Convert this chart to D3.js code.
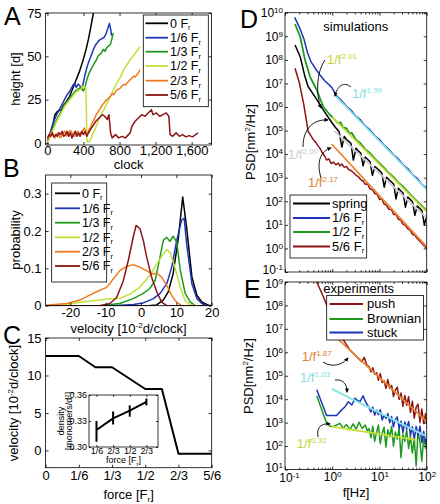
<!DOCTYPE html>
<html><head><meta charset="utf-8">
<script src="https://cdn.jsdelivr.net/npm/d3@7/dist/d3.min.js"></script>
<style>
html,body{margin:0;padding:0;background:#fff;}
svg{display:block;font-family:"Liberation Sans",Arial,Helvetica,sans-serif;}
</style></head>
<body><svg id="chart" width="440" height="504"></svg>
<script>
// ================= DATA =================
const forceLabels = ["0", "1/6", "1/3", "1/2", "2/3", "5/6"];
const forceColors = ["#000000", "#1f35b8", "#1f9a1f", "#c2e03a", "#ee7b22", "#8c1515"];

// Panel A: height [d] vs clock  ([clock, height])
const aRun0 = [[0,1],[11,1.9],[40,6.7],[65,11.5],[83,16.3],[113,18.3],[156,19.2],[174,21.2],[211,24],[247,26.9],[283,31.7],[319,36.5],[356,41.3],[392,47.1],[428,53.8],[454,59.6],[483,67.3],[512,75.5]];
const aRun1 = [[0,1.5],[25,5],[50,9],[75,13],[100,16],[130,19],[160,22],[190,25],[220,28],[250,30],[280,33],[300,34.5],[320,32],[340,34],[360,33],[380,31],[400,35],[420,40],[440,44],[460,47],[483,50],[510,54],[540,57],[570,59],[600,60],[630,61],[650,63],[670,66],[688,69],[700,66],[712,62]];
const aRun2 = [[0,1],[25,4],[50,7],[75,10],[100,13],[130,16],[160,19],[190,22],[220,24],[250,26],[280,28],[310,30],[340,31],[370,32],[400,30],[420,33],[440,37],[460,40],[480,42],[500,44],[520,46],[545,48],[560,50],[580,51],[600,52],[620,54],[640,53],[660,55],[680,56],[700,57],[715,60],[730,63.5]];
const aRun3 = [[0,0.5],[25,3],[50,6],[75,9],[100,12],[130,15],[160,18],[190,21],[220,23],[250,25],[280,27],[310,29],[340,30],[370,31],[392,32.7],[420,32],[428,31],[435,10],[440,0.5],[460,0.5],[480,2],[500,4.8],[530,8],[555,11.5],[590,16],[628,19.2],[660,23],[700,26.9],[735,31],[773,34.6],[810,38],[846,42.3],[880,45],[918,48],[955,50.5],[991,52.9],[1027,55.5]];
const aRun4 = [[0,1],[15,3],[29,4.8],[47,6.7],[65,4],[83,2.9],[100,5],[120,5.8],[138,3],[156,3.8],[175,6],[192,6.7],[210,4],[229,4.8],[247,7],[265,6.7],[283,4],[301,3.8],[320,6],[338,6.7],[356,5],[374,5.8],[392,7],[410,8.7],[428,6],[446,5.8],[465,8],[483,9.6],[500,12],[519,13.5],[537,16],[555,17.3],[574,19],[592,20.2],[610,22],[628,23],[646,24.5],[664,25],[682,26],[701,27],[719,28.5],[737,27.9],[755,29.5],[773,30.8],[791,31],[810,31.7],[828,33],[846,33.7],[864,33.5],[882,34.6],[900,35.5],[918,36.5],[937,37.5],[955,38.5],[973,38],[991,39.4],[1009,40.5],[1027,42.3]];
const aRun5 = [[0,2.9],[18,4.8],[36,3.8],[54,5.8],[73,3.5],[91,4.8],[109,3.8],[127,5.8],[145,4.8],[163,6.7],[182,3.8],[200,4.8],[218,6.7],[236,3.8],[254,5.8],[272,2.9],[290,4.8],[309,6.7],[327,3.8],[345,5.8],[363,3.8],[381,6.7],[399,4.8],[417,6.7],[436,3.8],[465,6.7],[501,9.6],[537,12.5],[574,14.4],[610,16.3],[635,15.4],[664,13.5],[682,16.3],[701,5.8],[719,2.9],[755,4.8],[791,2.9],[828,3.8],[864,2.9],[900,4.8],[918,5.8],[937,9.6],[973,12.5],[1009,14.4],[1045,16.3],[1082,15.4],[1118,17.3],[1154,19.2],[1172,16.3],[1209,17.3],[1245,15.4],[1281,16.3],[1318,17.3],[1347,15.4],[1361,4.8],[1390,3.8],[1427,5.8],[1463,3.8],[1499,4.8],[1536,3.5],[1572,4.2],[1608,3.5],[1644,4.8],[1670,5.8]];
const aTicksX = [0, 400, 800, 1200, 1600];
const aTicksY = [0, 25, 50, 75];

// Panel B: probability vs velocity ([velocity, probability])
const bDist0 = [[-27,0],[2,0],[4.4,0.002],[6.3,0.015],[7.7,0.037],[9.1,0.086],[10.6,0.184],[11.8,0.291],[12.9,0.21],[14.4,0.077],[15.8,0.028],[17.2,0.01],[19.1,0.001],[20,0]];
const bDist1 = [[-27,0],[-8,0],[-2.2,0.003],[0.65,0.0075],[3.5,0.019],[5.4,0.033],[7.3,0.059],[8.7,0.104],[10.1,0.175],[11.5,0.229],[12.2,0.235],[12.9,0.166],[14.4,0.059],[15.8,0.019],[17.2,0.006],[18.6,0],[20,0]];
const bDist2 = [[-27,0],[-12,0],[-9.7,0.002],[-6,0.006],[-2.2,0.019],[0.65,0.033],[2.5,0.046],[4,0.068],[5.2,0.122],[6.3,0.175],[7.3,0.183],[8.2,0.172],[9.1,0.186],[10.1,0.17],[11.1,0.095],[12.5,0.033],[13.9,0.01],[15.3,0],[20,0]];
const bDist3 = [[-27,0],[-21,0.003],[-17.3,0.009],[-13.5,0.013],[-9.7,0.018],[-6,0.02],[-3.1,0.031],[-0.3,0.05],[2.1,0.076],[4.5,0.112],[6.3,0.139],[7.3,0.15],[8.2,0.143],[9.6,0.103],[11.1,0.049],[12.5,0.013],[13.9,0.003],[15.3,0],[20,0]];
const bDist4 = [[-27,0.001],[-21,0.006],[-17.3,0.015],[-14.8,0.027],[-12,0.04],[-9.7,0.049],[-7.8,0.072],[-6,0.094],[-4.1,0.105],[-2.2,0.11],[-0.3,0.103],[1.6,0.094],[3,0.085],[4.5,0.087],[5.9,0.076],[7.3,0.054],[8.7,0.027],[10.1,0.009],[11.5,0],[20,0]];
const bDist5 = [[-27,0],[-11.6,0],[-8.8,0.006],[-6.9,0.022],[-5,0.067],[-3.6,0.121],[-2.2,0.184],[-1.4,0.215],[-0.3,0.206],[0.65,0.175],[1.6,0.13],[3,0.076],[4.5,0.036],[5.9,0.009],[7.3,0],[20,0]];
const bTicksX = [-20, -10, 0, 10, 20];
const bTicksY = [0, 0.1, 0.2, 0.3];

// Panel C: mean velocity vs force
const cForce = [0, 1/6, 1/4, 1/3, 1/2, 7/12, 2/3, 5/6];
const cVelocity = [12.6, 12.6, 11.1, 11.1, 8.2, 8.2, -0.45, -0.45];
const cTicksX = [0, 1/6, 2/6, 3/6, 4/6, 5/6];
const cTicksY = [0, 5, 10, 15];
// inset: density vs force
const insetCats = ["1/6", "2/3", "1/2", "2/3"];
const insetDensity = [0.3196, 0.333, 0.342, 0.352];
const insetLow = [0.306, 0.326, 0.335, 0.348];
const insetHigh = [0.330, 0.341, 0.348, 0.356];
const insetTicksY = [0.30, 0.33, 0.36];

// Panel D: simulations PSD (frequency [Hz], log10 PSD [nm^2/Hz])
const dSpringF = [0.163,0.21,0.265,0.31,0.43,0.65,0.9,1.15,1.4,1.6,1.8,2.0,2.2,2.5,2.8,3.2,3.5,4.0,4.5,5.0,5.6,6.3,7.1,8.0,8.9,10,11.2,12.6,14.1,15.8,17.8,20,22.4,25.1,28.2,31.6,35.5,39.8,44.7,50.1,56.2,63.1,70.8,79.4,89.1,100];
const dSpringLog = [8.63,8.13,7.28,6.86,6.44,5.87,5.45,5.15,4.95,4.3,4.75,4.62,4.55,4.45,3.75,4.25,4.15,4.05,3.5,3.88,3.78,3.68,3.1,3.47,3.4,3.3,3.2,2.6,3.02,2.92,2.83,2.72,2.1,2.55,2.45,2.35,1.75,2.18,2.08,1.98,1.4,1.8,1.7,1.6,1.0,1.4];
const dOneSixthF = [0.16,0.2,0.25,0.3,0.35,0.45,0.55,0.7,0.85,1.0,1.2,1.5,2,2.5,3.2,4,5,6.3,8,10,12.6,15.8,20,25,31.6,40,50,63,79,100];
const dOneSixthLog = [9.8,9.4,8.9,8.3,7.95,7.6,7.36,7.1,6.95,6.8,6.5,6.32,6.03,5.86,5.6,5.44,5.2,5.03,4.78,4.62,4.37,4.2,3.96,3.8,3.55,3.38,3.13,2.97,2.72,2.55];
const dOneHalfF = [0.163,0.21,0.265,0.34,0.47,0.65,0.9,1.15,1.3,1.5,1.7,2,2.3,2.6,3.2,4,5,6.3,8,10,12.6,15.8,20,25,31.6,40,50,63,79,100];
const dOneHalfLog = [9.52,8.98,8.0,7.28,6.72,6.0,5.66,5.45,5.32,5.35,5.12,5.1,4.88,4.9,4.6,4.45,4.2,4.05,3.8,3.62,3.42,3.2,3.02,2.8,2.62,2.4,2.2,2.0,1.8,1.6];
const dFiveSixthF = [0.163,0.2,0.25,0.31,0.35,0.4,0.45,0.5,0.55,0.62,0.7,0.76,0.85,0.95,1.05,1.2,1.35,1.46,1.6,1.8,2.0,2.2,2.5,2.8,3.2,3.5,4.0,4.5,5.0,5.6,6.3,7.1,8.0,8.9,10,11.2,12.6,14.1,15.8,17.8,20,22.4,25.1,28.2,31.6,35.5,39.8,44.7,50.1,56.2,63.1,70.8,79.4,89.1,100];
const dFiveSixthLog = [7.64,7.05,6.1,4.95,4.8,4.6,4.5,4.35,4.25,4.05,3.9,3.75,3.8,3.6,3.66,3.55,3.62,3.5,3.58,3.44,3.48,3.35,3.3,3.22,3.1,3.06,2.92,2.86,2.72,2.74,2.52,2.5,2.33,2.3,2.08,2.1,1.88,1.84,1.66,1.65,1.44,1.45,1.24,1.2,1.02,0.98,0.83,0.78,0.6,0.56,0.42,0.32,0.22,0.1,0.0];
// power-law fits in D (endpoints, log10 PSD)
const dFitCyanF = [1.2, 100],  dFitCyanLog = [6.45, 2.49];   // 1/f^1.99
const dFitYellowF = [1.0, 100], dFitYellowLog = [5.57, 1.55]; // 1/f^2.01
const dFitGreyF = [1.1, 100],  dFitGreyLog = [4.99, 1.29];   // 1/f^2.00
const dFitOrangeF = [0.97, 100], dFitOrangeLog = [4.43, 0.07]; // 1/f^2.17
const dLegend = ["spring", "1/6", "1/2", "5/6"];

// Panel E: experiments PSD
const eFreqHigh = [6.0,6.6,7.2,7.9,8.7,9.5,10.4,11.4,12.5,13.7,15.0,16.5,18.1,19.8,21.7,23.8,26.1,28.6,31.4,34.4,37.7,41.4,45.3,49.7,54.5,59.8,65.5,71.9,78.8,86.4,94.7,100];
const ePushF = [0.42,0.47,0.65,0.9,1.24,1.72,2.37,3.3,4.2,4.8,5.4];
const ePushLog = [9.3,9.0,8.37,7.66,7.0,6.53,6.1,5.81,5.6,5.78,5.45];
const ePushHighLog = [5.39,5.16,5.34,5.06,5.13,4.81,5.09,4.71,4.79,4.46,4.84,4.46,4.59,4.11,4.39,4.51,3.99,4.26,3.69,4.16,3.74,4.11,3.44,3.91,3.19,3.66,3.79,3.01,3.58,2.96,3.39,2.94];
const eBrownF = [0.47,0.6,0.76,0.9,1.05,1.24,1.46,1.7,2.0,2.37,2.78,3.2,3.7,4.3,5.0,5.5];
const eBrownLog = [4.15,3.55,2.97,2.85,2.83,2.9,2.97,2.76,2.92,2.7,2.95,2.72,3.02,2.75,2.9,2.65];
const eBrownHighLog = [2.75,2.35,2.85,2.2,2.6,2.9,2.1,2.55,2.8,1.95,2.7,2.4,2.85,2.0,2.6,2.3,2.75,1.5,2.5,2.2,2.7,1.9,2.45,1.7,2.3,1.15,2.6,2.2,1.35,2.4,1.9,2.25];
const eStuckF = [0.47,0.6,0.76,1.0,1.24,1.5,1.87,2.2,2.6,3.04,3.4,3.86,4.5,5.2];
const eStuckLog = [4.4,3.85,3.3,3.3,3.3,3.5,3.68,3.89,3.75,4.04,3.95,3.89,4.14,3.85];
const eStuckHighLog = [3.64,3.45,3.66,3.32,3.53,3.34,3.55,3.11,3.32,3.18,3.39,3.00,3.26,2.82,3.13,3.24,2.75,3.06,2.57,3.03,2.74,3.05,2.46,2.82,2.28,2.84,2.45,2.85,2.16,2.62,2.13,2.31];
const eFitOrangeF = [1.2, 100],  eFitOrangeLog = [6.65, 3.04];  // 1/f^1.87
const eFitCyanF = [0.975, 100],  eFitCyanLog = [4.44, 2.41];   // 1/f^1.03
const eFitYellowF = [0.975, 61], eFitYellowLog = [2.83, 2.26]; // 1/f^0.32
const eLegend = ["push", "Brownian", "stuck"];
const logTicksD = [1e-1,1e0,1e1,1e2,1e3,1e4,1e5,1e6,1e7,1e8,1e9,1e10];
const logTicksE = [1e1,1e2,1e3,1e4,1e5,1e6,1e7,1e8,1e9];
const logTicksF = [0.1, 1, 10, 100];

// ================= DRAWING =================
const FONT = '"Liberation Sans", Arial, Helvetica, sans-serif';
const svg = d3.select("#chart");
const defs = svg.append("defs");
defs.append("marker").attr("id","arrow").attr("viewBox","0 0 10 10")
  .attr("refX",8).attr("refY",5).attr("markerWidth",5).attr("markerHeight",5)
  .attr("orient","auto").append("path").attr("d","M0,0.5 L10,5 L0,9.5 z").attr("fill","#000");

const C = {black:"#000000", blue:"#1f35b8", green:"#1f9a1f", yel:"#c2e03a", orange:"#ee7b22", red:"#8c1515",
           cyanFit:"#86e6e6", cyanTxt:"#7fdede", yelFit:"#c9dc3a", yelTxt:"#c8d43a", greyFit:"#cfcfcf", greyTxt:"#cccccc", orFit:"#ea8530", orTxt:"#e4822e"};

let clipN = 0;
function clipGroup(x, y) {
  const id = "clp" + (clipN++);
  const [xa, xb] = x.range(), [yb, ya] = y.range();
  defs.append("clipPath").attr("id", id).append("rect")
    .attr("x", xa).attr("y", ya).attr("width", xb - xa).attr("height", yb - ya);
  return svg.append("g").attr("clip-path", `url(#${id})`);
}
function styleAxis(g, fs) {
  g.attr("font-family", FONT).attr("font-size", fs);
  g.select(".domain").remove();
  g.selectAll(".tick line").attr("stroke", "#000").attr("stroke-width", 0.8);
  g.selectAll("text").attr("fill", "#000");
}
function axes(x, y, o) {
  const [xa, xb] = x.range(), [yb, ya] = y.range();
  const t = o.tick ?? 3, fs = o.fs ?? 13;
  const mk = (axis, tx, ty, vals, fmt, pad, size) => {
    axis.tickSizeInner(-size).tickSizeOuter(0).tickPadding(pad);
    if (vals) axis.tickValues(vals);
    axis.tickFormat(fmt);
    const g = svg.append("g").attr("transform", `translate(${tx},${ty})`).call(axis);
    styleAxis(g, fs);
    return g;
  };
  const gl = mk(d3.axisLeft(y), xa, 0, o.yticks, o.yfmt, o.ypad ?? 4, t);
  mk(d3.axisRight(y), xb, 0, o.yticks, () => "", 0, t);
  const gb = mk(d3.axisBottom(x), 0, yb, o.xticks, o.xfmt, o.xpad ?? 3, t);
  mk(d3.axisTop(x), 0, ya, o.xticks, () => "", 0, t);
  if (o.xminor) {
    mk(d3.axisBottom(x), 0, yb, o.xminor, () => "", 0, t * 0.6);
    mk(d3.axisTop(x), 0, ya, o.xminor, () => "", 0, t * 0.6);
  }
  svg.append("rect").attr("x", xa).attr("y", ya).attr("width", xb - xa).attr("height", yb - ya)
    .attr("fill", "none").attr("stroke", "#000").attr("stroke-width", 0.8);
  return { gl, gb };
}
function supTicks(g) {
  g.selectAll(".tick text").each(function (d) {
    const e = Math.round(Math.log10(d));
    const s = d3.select(this);
    s.text("10");
    s.append("tspan").attr("dy", "-0.5em").attr("font-size", 8).text(e < 0 ? "-" + (-e) : String(e));
  });
}
// nudge a single tick label of an axis group (value v) by dx, dy pixels
function nudgeTick(g, v, dx, dy) {
  g.selectAll(".tick").filter(d => Math.abs(d - v) < 1e-9 * Math.max(1, v)).select("text")
    .attr("transform", `translate(${dx},${dy})`);
}
function drawLine(g, x, y, data, color, w) {
  g.append("path").datum(data).attr("fill", "none").attr("stroke", color)
    .attr("stroke-width", w ?? 1.5).attr("stroke-linejoin", "round")
    .attr("d", d3.line().x(d => x(d[0])).y(d => y(d[1])));
}
const toPairs = (fs, logs) => fs.map((f, i) => [f, Math.pow(10, logs[i])]);
function text(x, y, str, o = {}) {
  const t = svg.append("text").attr("x", x).attr("y", y).attr("font-family", FONT)
    .attr("font-size", o.fs ?? 13).attr("fill", o.color ?? "#000")
    .attr("text-anchor", o.anchor ?? "start").text(str);
  if (o.rot) t.attr("transform", `rotate(-90,${x},${y})`);
  return t;
}
function withFr(t, fs) { t.append("tspan").text("F"); t.append("tspan").attr("dy", 2.5).attr("font-size", fs ?? 8).text("r"); return t; }
function velLabel(t) {
  t.text("velocity [10");
  t.append("tspan").attr("dy", -5).attr("font-size", 8).text("-2");
  t.append("tspan").attr("dy", 5).text("d/clock]");
}
function fitLabel(x, y, exp, color) {
  const t = text(x, y, "1/f", { color });
  t.append("tspan").attr("dy", -5).attr("font-size", 8).text(exp);
}
function arrow(d) {
  svg.append("path").attr("d", d).attr("fill", "none").attr("stroke", "#000")
    .attr("stroke-width", 0.9).attr("marker-end", "url(#arrow)");
}
function legendBox(x0, y0, x1, y1, entries, lx0, lx1, tx, ys, colors, frSub, fs) {
  svg.append("rect").attr("x", x0).attr("y", y0).attr("width", x1 - x0).attr("height", y1 - y0)
    .attr("fill", "#fff").attr("stroke", "#000").attr("stroke-width", 0.8);
  entries.forEach((e, i) => {
    svg.append("line").attr("x1", lx0).attr("x2", lx1).attr("y1", ys[i]).attr("y2", ys[i])
      .attr("stroke", colors[i]).attr("stroke-width", 1.8);
    const t = text(tx, ys[i] + 4.3, frSub[i] ? e + " " : e, { fs: fs ?? 13 });
    if (frSub[i]) withFr(t, 7.5);
  });
}

// ---------- Panel A ----------
{
  const x = d3.scaleLinear().domain([-20, 1820]).range([45.6, 211.5]);
  const y = d3.scaleLinear().domain([-1.2, 75]).range([145, 13]);
  const g = clipGroup(x, y);
  [aRun0, aRun1, aRun2, aRun3, aRun4, aRun5].forEach((s, i) => drawLine(g, x, y, s, forceColors[i], 1.5));
  axes(x, y, { xticks: aTicksX, yticks: aTicksY, xfmt: d3.format(","), yfmt: d => String(d), xpad: 1 });
  legendBox(143.3, 15, 208.3, 106.7, forceLabels, 145.5, 168, 170, [23.3, 37.7, 51.7, 66, 80.7, 95], forceColors, forceLabels.map(() => true), 12.5);
  text(20, 79, "height [d]", { rot: true, anchor: "middle" });
  text(128.6, 169, "clock", { anchor: "middle" });
  text(4, 25, "A", { fs: 25 });
}
// ---------- Panel B ----------
{
  const x = d3.scaleLinear().domain([-27, 20]).range([45.6, 211.7]);
  const y = d3.scaleLinear().domain([0, 0.35]).range([305.7, 175]);
  const g = clipGroup(x, y);
  [bDist0, bDist1, bDist2, bDist3, bDist4, bDist5].forEach((s, i) => drawLine(g, x, y, s, forceColors[i], 1.5));
  axes(x, y, { xticks: bTicksX, yticks: bTicksY, xfmt: d => String(d), yfmt: d => String(d), xpad: 2 });
  legendBox(51.7, 183, 106.7, 282, forceLabels, 55, 80, 82, [193.3, 208.3, 222.7, 237.3, 251.7, 266], forceColors, forceLabels.map(() => true), 12.5);
  text(20, 240, "probability", { rot: true, anchor: "middle" });
  velLabel(text(128.6, 333, "", { anchor: "middle" }));
  text(3, 177, "B", { fs: 25 });
}
// ---------- Panel C ----------
{
  const x = d3.scaleLinear().domain([0, 5/6]).range([45.6, 211.7]);
  const y = d3.scaleLinear().domain([-2.3, 15]).range([467.7, 338]);
  const g = clipGroup(x, y);
  drawLine(g, x, y, cForce.map((f, i) => [f, cVelocity[i]]), "#000", 2);
  axes(x, y, { xticks: cTicksX, yticks: cTicksY, xfmt: (d, i) => forceLabels[i], yfmt: d => String(d), xpad: 3 });
  velLabel(text(18, 403, "", { rot: true, anchor: "middle" }));
  withFr(text(128.6, 499, "force [", { anchor: "middle" })).append("tspan").attr("dy", -2.5).text("]");
  text(3, 344, "C", { fs: 25 });
  // inset
  const xi = d3.scaleLinear().domain([0.55, 4.7]).range([89, 158]);
  const yi = d3.scaleLinear().domain([0.30, 0.36]).range([447, 395]);
  svg.append("rect").attr("x", 89).attr("y", 395).attr("width", 69).attr("height", 52).attr("fill", "#fff");
  const gi = svg.append("g");
  insetDensity.forEach((v, i) => {
    gi.append("line").attr("x1", xi(i + 1)).attr("x2", xi(i + 1)).attr("y1", yi(insetLow[i])).attr("y2", yi(insetHigh[i]))
      .attr("stroke", "#000").attr("stroke-width", 2);
  });
  drawLine(gi, xi, yi, insetDensity.map((v, i) => [i + 1, v]), "#000", 2);
  axes(xi, yi, { tick: 2, fs: 9, xticks: [1, 2, 3, 4], yticks: insetTicksY, xfmt: (d, i) => insetCats[i], yfmt: d3.format(".2f"), ypad: 2, xpad: 1 });
  text(64, 421, "density", { rot: true, anchor: "middle", fs: 9 });
  const mt = text(72, 421, "[monomers/d", { rot: true, anchor: "middle", fs: 9 });
  mt.append("tspan").attr("dy", -3).attr("font-size", 6).text("2");
  mt.append("tspan").attr("dy", 3).text("]");
  withFr(text(123.5, 463, "force [", { anchor: "middle", fs: 9 }), 6).append("tspan").attr("dy", -2.5).text("]");
}
// ---------- Panel D ----------
{
  const x = d3.scaleLog().domain([0.1, 100]).range([285, 426.7]);
  const y = d3.scaleLog().domain([0.1, 1e10]).range([272, 12.7]);
  const g = clipGroup(x, y);
  drawLine(g, x, y, toPairs(dSpringF, dSpringLog), C.black, 1.5);
  drawLine(g, x, y, toPairs(dOneSixthF, dOneSixthLog), C.blue, 1.5);
  drawLine(g, x, y, toPairs(dOneHalfF, dOneHalfLog), C.green, 1.8);
  drawLine(g, x, y, toPairs(dFiveSixthF, dFiveSixthLog), C.red, 1.5);
  drawLine(g, x, y, toPairs(dFitCyanF, dFitCyanLog), C.cyanFit, 1.8);
  drawLine(g, x, y, toPairs(dFitYellowF, dFitYellowLog), C.yelFit, 1.6);
  drawLine(g, x, y, toPairs(dFitGreyF, dFitGreyLog), C.greyFit, 1.8);
  drawLine(g, x, y, toPairs(dFitOrangeF, dFitOrangeLog), C.orFit, 1.8);
  const minor = [];
  [0.1, 1, 10].forEach(b => { for (let k = 2; k <= 9; k++) minor.push(b * k); });
  const { gl } = axes(x, y, { xticks: logTicksF, yticks: logTicksD, xfmt: () => "", ypad: 2, fs: 12, xminor: minor });
  supTicks(gl);
  nudgeTick(gl, 0.1, 0, -2);
  const psd = text(255, 142, "PSD[nm", { rot: true, anchor: "middle" });
  psd.append("tspan").attr("dy", -5).attr("font-size", 8).text("2");
  psd.append("tspan").attr("dy", 5).text("/Hz]");
  text(323.3, 31, "simulations");
  fitLabel(327, 64, "2.01", C.yelTxt);
  fitLabel(352, 98, "1.99", C.cyanTxt);
  fitLabel(288, 159, "2.00", C.greyTxt);
  fitLabel(308, 187, "2.17", C.orTxt);
  arrow("M325,60 C316,72 316,96 321,108");
  arrow("M351,87 C344,81 337,86 335,96");
  arrow("M303,147 C303,128 314,119 328,120");
  arrow("M321,178 C316,161 321,151 331,148");
  legendBox(290, 195, 366.7, 258, dLegend, 293, 330, 332, [203.5, 218, 232, 246.5], [C.black, C.blue, C.green, C.red], [false, true, true, true]);
  text(240, 28, "D", { fs: 25 });
}
// ---------- Panel E ----------
{
  const x = d3.scaleLog().domain([0.1, 100]).range([285, 426.7]);
  const y = d3.scaleLog().domain([10, 1e9]).range([469.5, 282]);
  const g = clipGroup(x, y);
  drawLine(g, x, y, toPairs(ePushF.concat(eFreqHigh), ePushLog.concat(ePushHighLog)), C.red, 1.5);
  drawLine(g, x, y, toPairs(eBrownF.concat(eFreqHigh), eBrownLog.concat(eBrownHighLog)), C.green, 1.5);
  drawLine(g, x, y, toPairs(eStuckF.concat(eFreqHigh), eStuckLog.concat(eStuckHighLog)), C.blue, 1.5);
  drawLine(g, x, y, toPairs(eFitOrangeF, eFitOrangeLog), C.orFit, 1.8);
  drawLine(g, x, y, toPairs(eFitCyanF, eFitCyanLog), C.cyanFit, 1.8);
  drawLine(g, x, y, toPairs(eFitYellowF, eFitYellowLog), C.yelFit, 1.8);
  const minor = [];
  [0.1, 1, 10].forEach(b => { for (let k = 2; k <= 9; k++) minor.push(b * k); });
  const { gl, gb } = axes(x, y, { xticks: logTicksF, yticks: logTicksE, ypad: 2, xpad: 3, fs: 12, xminor: minor });
  supTicks(gl); supTicks(gb);
  nudgeTick(gl, 1e9, 0, 1.5);
  nudgeTick(gl, 10, 0, -2);
  nudgeTick(gb, 0.1, 4, 1);
  const psd = text(253, 376, "PSD[nm", { rot: true, anchor: "middle" });
  psd.append("tspan").attr("dy", -5).attr("font-size", 8).text("2");
  psd.append("tspan").attr("dy", 5).text("/Hz]");
  text(356, 497, "f[Hz]", { anchor: "middle" });
  text(323.3, 292.5, "experiments");
  legendBox(326.7, 295.5, 423.5, 340, eLegend, 329.5, 363, 367, [304, 319, 332.5], [C.red, C.green, C.blue], [false, false, false]);
  fitLabel(301.7, 361, "1.87", C.orTxt);
  fitLabel(300, 382, "1.03", C.cyanTxt);
  fitLabel(296.7, 448, "0.32", C.yelTxt);
  arrow("M323,362 C332,368 342,365 348,358");
  arrow("M335,380 C344,379 347,385 347,392");
  arrow("M318,437 C316,427 322,423 330,424");
  text(244, 298, "E", { fs: 25 });
}
</script></body></html>
